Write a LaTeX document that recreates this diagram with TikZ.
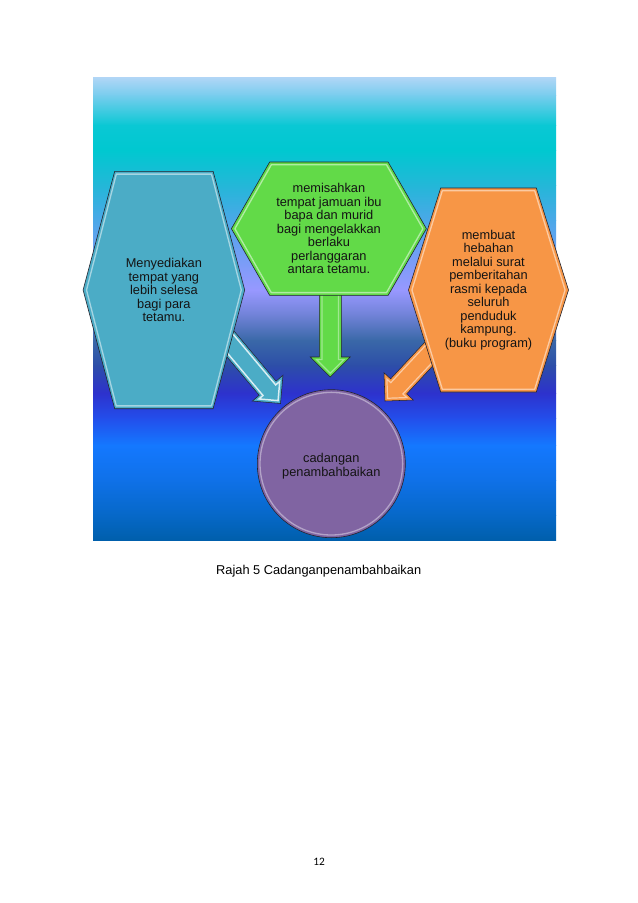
\documentclass[tikz,border=0pt]{standalone}
\usepackage{fontspec}
\setmainfont{Liberation Sans}
\newfontfamily\pgnumfont{Carlito}
\usetikzlibrary{calc}

\definecolor{hexblue}{RGB}{75,172,198}
\definecolor{hexgreen}{RGB}{98,218,72}
\definecolor{hexorange}{RGB}{247,150,70}
\definecolor{circpurple}{RGB}{128,100,162}
\definecolor{edgedark}{RGB}{35,35,45}
\definecolor{txt}{RGB}{20,20,20}

\definecolor{bgA}{RGB}{178,214,246}
\definecolor{bgB}{RGB}{120,205,238}
\definecolor{bgC}{RGB}{10,200,212}
\definecolor{bgD}{RGB}{0,200,208}
\definecolor{bgE}{RGB}{35,183,216}
\definecolor{bgF}{RGB}{75,168,232}
\definecolor{bgG}{RGB}{115,158,245}
\definecolor{bgH}{RGB}{152,152,255}
\definecolor{bgI}{RGB}{112,130,215}
\definecolor{bgJ}{RGB}{58,104,168}
\definecolor{bgK}{RGB}{45,78,168}
\definecolor{bgL}{RGB}{45,50,205}
\definecolor{bgM}{RGB}{35,78,235}
\definecolor{bgN}{RGB}{20,120,255}
\definecolor{bgO}{RGB}{15,113,232}
\definecolor{bgP}{RGB}{6,104,200}
\definecolor{bgQ}{RGB}{0,95,172}

% hexagon: #1 centre, #2 half top width, #3 half width to point, #4 half height, #5 style
\newcommand\hexshape[5]{%
  \path[#5] ($(#1)+(-#2,-#4)$) -- ($(#1)+(#2,-#4)$) -- ($(#1)+(#3,0)$)
    -- ($(#1)+(#2,#4)$) -- ($(#1)+(-#2,#4)$) -- ($(#1)+(-#3,0)$) -- cycle;}

% block arrow: #1 start, #2 tip, #3 style, #4 head length, #5 head half width, #6 shaft half width
\newcommand\blockarr[6]{%
  \coordinate (bk) at ($(#2)!#4!(#1)$);
  \path[#3] (#2) -- ($(bk)!#5!90:(#2)$) -- ($(bk)!#6!90:(#2)$)
    -- ($(#1)!#6!90:(#2)$) -- ($(#1)!#6!-90:(#2)$)
    -- ($(bk)!#6!-90:(#2)$) -- ($(bk)!#5!-90:(#2)$) -- cycle;}

\tikzset{
  band/.style={draw=none},
  hexedge/.style={draw=edgedark, line width=0.45pt, line join=miter},
  shine/.style={draw=white, line width=1pt, opacity=0.5, line join=round},
  hextext/.style={align=center, text=txt, inner sep=0pt,
    font=\fontsize{9.6}{10.1}\selectfont},
}

\begin{document}
\begin{tikzpicture}[x=0.75pt, y=-0.75pt]
\useasboundingbox (0,0) rectangle (638,903);
\fill[white] (0,0) rectangle (638,903);

% background gradient bands
\fill[band, top color=bgA, bottom color=bgB] (93,77) rectangle (556,95.5);
\fill[band, top color=bgB, bottom color=bgC] (93,95) rectangle (556,125.5);
\fill[band, top color=bgC, bottom color=bgD] (93,125) rectangle (556,150.5);
\fill[band, top color=bgD, bottom color=bgE] (93,150) rectangle (556,185.5);
\fill[band, top color=bgE, bottom color=bgF] (93,185) rectangle (556,220.5);
\fill[band, top color=bgF, bottom color=bgG] (93,220) rectangle (556,255.5);
\fill[band, top color=bgG, bottom color=bgH] (93,255) rectangle (556,290.5);
\fill[band, top color=bgH, bottom color=bgI] (93,290) rectangle (556,315.5);
\fill[band, top color=bgI, bottom color=bgJ] (93,315) rectangle (556,340.5);
\fill[band, top color=bgJ, bottom color=bgK] (93,340) rectangle (556,365.5);
\fill[band, top color=bgK, bottom color=bgL] (93,365) rectangle (556,393.5);
\fill[band, top color=bgL, bottom color=bgM] (93,393) rectangle (556,418.5);
\fill[band, top color=bgM, bottom color=bgN] (93,418) rectangle (556,445.5);
\fill[band, top color=bgN, bottom color=bgO] (93,445) rectangle (556,480.5);
\fill[band, top color=bgO, bottom color=bgP] (93,480) rectangle (556,515.5);
\fill[band, top color=bgP, bottom color=bgQ] (93,515) rectangle (556,540);

% centres
\coordinate (hL) at (163.9,290);
\coordinate (hG) at (328.9,228.7);
\coordinate (hO) at (488.5,290);

% arrow end points
\coordinate (aLs) at (184,288.6);
\coordinate (aLt) at (280.5,403.5);
\coordinate (aGs) at (330.3,260);
\coordinate (aGt) at (330.3,377);
\coordinate (aOs) at (487.3,291.3);
\coordinate (aOt) at (385,401);

% arrows (behind the hexagons)
\blockarr{aLs}{aLt}{fill=hexblue, draw=edgedark, line width=0.4pt}{15pt}{15pt}{8.25pt}
\coordinate (aLi) at ($(aLt)!2.83pt!(aLs)$);
\blockarr{aLs}{aLi}{draw=white, line width=1.1pt, opacity=0.8}{10.2pt}{10.2pt}{6.2pt}

\blockarr{aGs}{aGt}{fill=hexgreen, draw=edgedark, line width=0.4pt}{15pt}{15pt}{8.25pt}
\coordinate (aGi) at ($(aGt)!2.83pt!(aGs)$);
\blockarr{aGs}{aGi}{draw=white, line width=0.9pt, opacity=0.4}{10.2pt}{10.2pt}{6.2pt}

\blockarr{aOs}{aOt}{fill=hexorange, draw=edgedark, line width=0.4pt}{15pt}{15pt}{8.25pt}
\coordinate (aOi) at ($(aOt)!2.83pt!(aOs)$);
\blockarr{aOs}{aOi}{draw=white, line width=0.9pt, opacity=0.5}{10.2pt}{10.2pt}{6.2pt}

% hexagons
\hexshape{hL}{49.2}{80.8}{118.7}{fill=hexblue, hexedge}
\hexshape{hL}{47.6}{77.4}{115.9}{shine}
\hexshape{hG}{59.2}{97.5}{66.7}{fill=hexgreen, hexedge}
\hexshape{hG}{57.6}{94.0}{63.9}{shine}
\hexshape{hO}{47.8}{80.0}{102}{fill=hexorange, hexedge}
\hexshape{hO}{46.2}{76.6}{99.2}{shine}

% circle
\node[circle, minimum size=111pt, inner sep=0pt, fill=circpurple, draw=edgedark,
      line width=0.45pt] (cC) at (331.3,463.7) {};
\draw[white, opacity=0.4, line width=1pt] (cC.center) circle[radius=71.3];
\node[hextext] (tC) at (331.3,466) {cadangan\\penambahbaikan};

% texts
\node[hextext] (tL) at (hL) {Menyediakan\\tempat yang\\lebih selesa\\bagi para\\tetamu.};
\node[hextext] (tG) at (hG) {memisahkan\\tempat jamuan ibu\\bapa dan murid\\bagi mengelakkan\\berlaku\\perlanggaran\\antara tetamu.};
\node[hextext] (tO) at (hO) {membuat\\hebahan\\melalui surat\\pemberitahan\\rasmi kepada\\seluruh\\penduduk\\kampung.\\(buku program)};

% caption and page number
\node[anchor=base, inner sep=0pt, text=black, font=\fontsize{9.6}{11}\selectfont]
  (cap) at (318.7,574) {Rajah 5 Cadanganpenambahbaikan};
\node[anchor=base, inner sep=0pt, text=black, font=\pgnumfont\fontsize{8.5}{10}\selectfont]
  (pg) at (319,865.7) {12};
\end{tikzpicture}
\end{document}
